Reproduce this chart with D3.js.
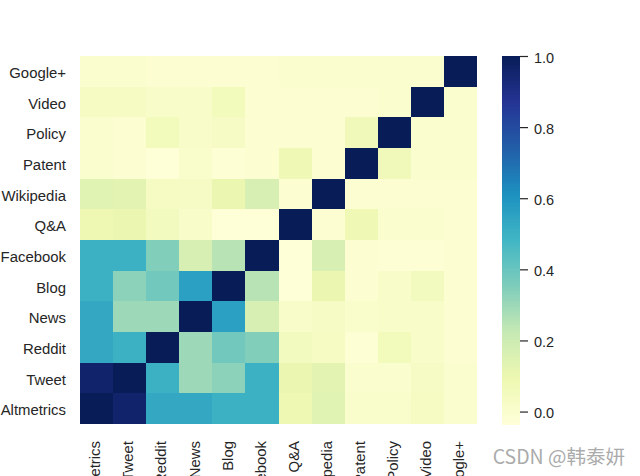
<!DOCTYPE html>
<html><head><meta charset="utf-8">
<script src="https://cdnjs.cloudflare.com/ajax/libs/d3/7.8.5/d3.min.js"></script>
<style>html,body{margin:0;padding:0;background:#fff;overflow:hidden}svg{display:block}text{font-family:"Liberation Sans",Arial,sans-serif}</style>
</head><body><svg id="c" width="640" height="476"></svg>
<script>
const labels = ["Altmetrics","Tweet","Reddit","News","Blog","Facebook","Q&A","Wikipedia","Patent","Policy","Video","Google+"];
const altmetrics = [1,.96,.53,.53,.5,.5,.09,.14,.01,.01,.04,.0];
const tweet      = [.96,1,.5,.3,.33,.5,.1,.13,.0,.0,.03,.0];
const reddit     = [.53,.5,1,.3,.38,.35,.05,.04,-.02,.06,.02,-.01];
const news       = [.53,.3,.3,1,.56,.17,.02,.03,.01,.02,.02,-.01];
const blog       = [.5,.33,.38,.56,1,.25,-.03,.1,-.01,.02,.05,-.01];
const facebook   = [.5,.5,.35,.17,.25,1,-.03,.17,-.01,-.02,-.02,-.01];
const qa         = [.09,.1,.05,.02,-.03,-.03,1,-.01,.08,.0,.0,-.01];
const wikipedia  = [.14,.13,.04,.03,.1,.17,-.01,1,-.01,-.01,-.01,-.01];
const patent     = [.0,-.01,-.03,.01,-.02,-.01,.08,-.01,1,.07,.0,.0];
const policy     = [.0,-.01,.06,.02,.03,-.01,-.01,-.01,.07,1,.0,.0];
const video      = [.04,.04,.02,.02,.06,-.01,-.01,-.01,-.01,.0,1,.0];
const googlePlus = [.0,.0,-.01,-.01,-.01,-.01,.0,.0,.0,.0,.0,1];
const matrix = [altmetrics,tweet,reddit,news,blog,facebook,qa,wikipedia,patent,policy,video,googlePlus];
const cbTicks = [0,.2,.4,.6,.8,1];
const palette = ["#ffffd9","#edf8b1","#c7e9b4","#7fcdbb","#41b6c4","#1d91c0","#225ea8","#253494","#081d58"];
const vmin = -0.035, vmax = 1;

const color = d3.scaleLinear()
  .domain(palette.map((_,i)=>vmin+(vmax-vmin)*i/(palette.length-1)))
  .range(palette).interpolate(d3.interpolateRgb);

const svg = d3.select("#c");
const x = d3.scaleBand().domain(labels).range([80,477]);
const y = d3.scaleBand().domain(labels).range([424,56]);

const cells = matrix.flatMap((row,r)=>row.map((v,c)=>({r:labels[r],c:labels[c],v})));
svg.append("g").attr("shape-rendering","crispEdges").selectAll("rect").data(cells).join("rect")
  .attr("x",d=>x(d.c)).attr("y",d=>y(d.r))
  .attr("width",x.bandwidth()).attr("height",y.bandwidth())
  .attr("fill",d=>color(d.v));

const labelColor = "#262626", fs = 14.9;
svg.append("g").selectAll("text").data(labels).join("text")
  .attr("x",66).attr("y",d=>y(d)+y.bandwidth()/2+1.5).attr("dy","0.35em")
  .attr("text-anchor","end").attr("font-size",fs).attr("fill",labelColor).text(d=>d);
svg.append("g").selectAll("text").data(labels).join("text")
  .attr("transform",d=>`translate(${x(d)+x.bandwidth()/2-1.5},441) rotate(-90)`)
  .attr("dy","0.35em").attr("text-anchor","end")
  .attr("font-size",fs).attr("fill",labelColor).text(d=>d);

// colorbar
const cb = d3.scaleLinear().domain([vmin,vmax]).range([424,56]);
const levels = d3.range(256).map(i=>vmin+(vmax-vmin)*i/256);
const step = (vmax-vmin)/256;
svg.append("g").attr("shape-rendering","crispEdges").selectAll("rect").data(levels).join("rect")
  .attr("x",502).attr("width",18)
  .attr("y",d=>cb(d+step)).attr("height",d=>cb(d)-cb(d+step)+0.5)
  .attr("fill",d=>color(d+step/2));
const axis = d3.axisRight(cb).tickValues(cbTicks).tickFormat(d3.format(".1f")).tickSize(8).tickPadding(6);
const ag = svg.append("g").attr("transform","translate(520,0)").call(axis);
ag.select(".domain").remove();
ag.selectAll("line").attr("stroke",labelColor).attr("stroke-width",1.2);
ag.selectAll("text").attr("font-size",14.5).attr("fill",labelColor).attr("y",1.5)
  .style("font-family",'"Liberation Sans",Arial,sans-serif');

svg.append("text").attr("x",625).attr("y",464).attr("text-anchor","end")
  .attr("font-size",19.5).attr("fill","#ababab")
  .style("font-family",'"Noto Sans CJK SC","Liberation Sans",sans-serif')
  .text("CSDN @韩泰妍");
</script></body></html>
